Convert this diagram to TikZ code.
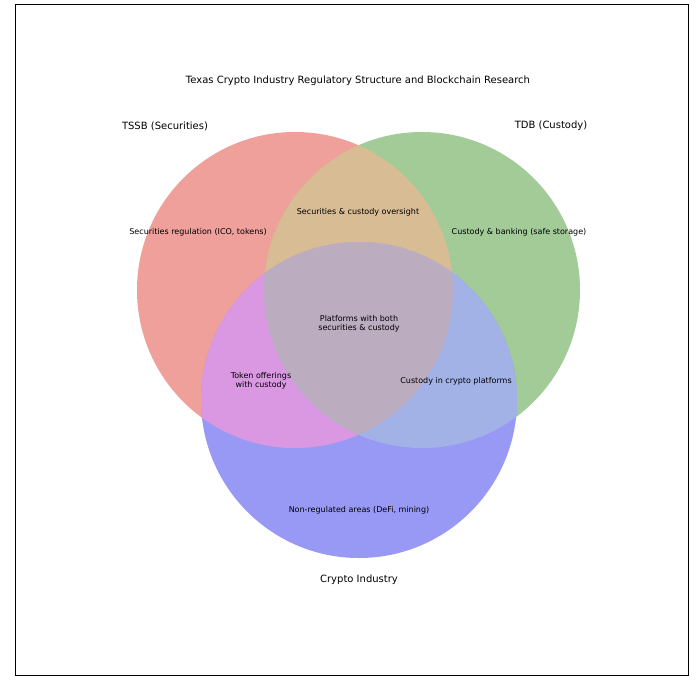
\documentclass[tikz,border=0pt]{standalone}
\usepackage{fontspec}
\setmainfont{DejaVu Sans}
\begin{document}
\begin{tikzpicture}[x=1pt,y=-1pt,
  lbl/.style={font=\fontsize{8}{9.5}\selectfont,align=center,inner sep=0pt},
  big/.style={font=\fontsize{10}{12}\selectfont,inner sep=0pt}]
\definecolor{cA}{RGB}{240,160,155}
\definecolor{cB}{RGB}{162,203,152}
\definecolor{cC}{RGB}{152,152,245}
\definecolor{cAB}{RGB}{216,188,148}
\definecolor{cAC}{RGB}{218,152,226}
\definecolor{cBC}{RGB}{162,178,230}
\definecolor{cABC}{RGB}{188,172,192}
\useasboundingbox (0,0) rectangle (700,685);
\fill[white] (0,0) rectangle (700,685);
\draw[line width=1pt] (15,5) rectangle (688,675);
\def\cA{(295,290) circle (158)}
\def\cB{(422,290) circle (158)}
\def\cC{(359,400) circle (158)}
\fill[cA] \cA;
\fill[cB] \cB;
\fill[cC] \cC;
\begin{scope}\clip \cA; \fill[cAB] \cB; \fill[cAC] \cC; \end{scope}
\begin{scope}\clip \cB; \fill[cBC] \cC; \end{scope}
\begin{scope}\clip \cA; \clip \cB; \fill[cABC] \cC; \end{scope}
\node[big] (title) at (358,81) {Texas Crypto Industry Regulatory Structure and Blockchain Research};
\node[big] (la) at (165,126) {TSSB (Securities)};
\node[big] (lb) at (551,126) {TDB (Custody)};
\node[big] (lc) at (359,580) {Crypto Industry};
\node[lbl] (ra) at (198,232) {Securities regulation (ICO, tokens)};
\node[lbl] (rb) at (519,232) {Custody \& banking (safe storage)};
\node[lbl] (rab) at (358,212) {Securities \& custody oversight};
\node[lbl] (rabc) at (359,324) {Platforms with both\\securities \& custody};
\node[lbl] (rac) at (261,381) {Token offerings\\with custody};
\node[lbl] (rbc) at (456,381) {Custody in crypto platforms};
\node[lbl] (rc) at (359,510) {Non-regulated areas (DeFi, mining)};
\end{tikzpicture}
\end{document}
